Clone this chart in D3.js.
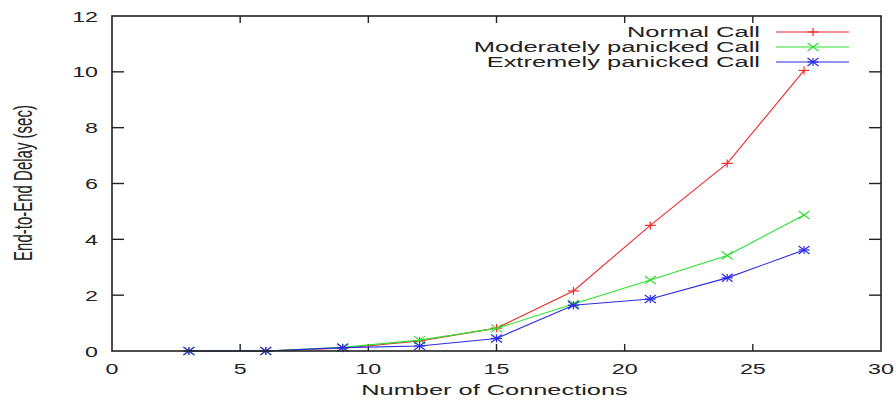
<!DOCTYPE html>
<html><head><meta charset="utf-8">
<script src="https://cdn.jsdelivr.net/npm/d3@7"></script>
<style>html,body{margin:0;padding:0;background:#fff;}svg{display:block;}text{font-family:"Liberation Sans",Arial,Helvetica,sans-serif;fill:#222;}</style>
</head><body>
<svg id="c" width="896" height="401"></svg>
<script>
const connections = [3, 6, 9, 12, 15, 18, 21, 24, 27];
const normalCall = [0, 0, 0.1, 0.36, 0.82, 2.15, 4.5, 6.72, 10.05];
const moderateCall = [0, 0, 0.13, 0.39, 0.81, 1.68, 2.54, 3.42, 4.87];
const extremeCall = [0, 0, 0.12, 0.18, 0.45, 1.64, 1.86, 2.62, 3.62];
const xTicks = [0, 5, 10, 15, 20, 25, 30];
const yTicks = [0, 2, 4, 6, 8, 10, 12];
const seriesNames = ["Normal Call", "Moderately panicked Call", "Extremely panicked Call"];
const seriesColors = ["#ee2a2a", "#2ee02e", "#2a2ae6"];
const seriesMarkers = ["plus", "cross", "star"];
const seriesValues = [normalCall, moderateCall, extremeCall];

const SX = 1.7;
const svg = d3.select("#c");
const x = d3.scaleLinear().domain([0, 30]).range([112, 881]);
const y = d3.scaleLinear().domain([0, 12]).range([351, 16]);

function stext(g, tx, ty, str, anchor, size, sx) {
  return g.append("text").attr("transform", `translate(${tx},${ty}) scale(${sx||SX},1)`)
    .attr("text-anchor", anchor).attr("font-size", size).text(str);
}

// ticks (all four sides, inward)
const tk = svg.append("g").attr("stroke", "#222").attr("stroke-width", 1.4);
xTicks.forEach(t => {
  if (t > 0 && t < 30) {
    tk.append("line").attr("x1", x(t)).attr("x2", x(t)).attr("y1", y(0)).attr("y2", y(0) - 7);
    tk.append("line").attr("x1", x(t)).attr("x2", x(t)).attr("y1", y(12)).attr("y2", y(12) + 7);
  }
});
yTicks.forEach(t => {
  if (t > 0 && t < 12) {
    tk.append("line").attr("x1", x(0)).attr("x2", x(0) + 12).attr("y1", y(t)).attr("y2", y(t));
    tk.append("line").attr("x1", x(30)).attr("x2", x(30) - 12).attr("y1", y(t)).attr("y2", y(t));
  }
});

// series lines and markers
const line = d3.line().x(d => x(d[0])).y(d => y(d[1]));
function marker(g, type, cx, cy, color) {
  const hx = 5.5, hy = 4;
  const p = g.append("g").attr("stroke", color).attr("stroke-width", 1.2);
  if (type === "plus" || type === "star") {
    p.append("line").attr("x1", cx - hx).attr("x2", cx + hx).attr("y1", cy).attr("y2", cy);
    p.append("line").attr("x1", cx).attr("x2", cx).attr("y1", cy - hy).attr("y2", cy + hy);
  }
  if (type === "cross" || type === "star") {
    p.append("line").attr("x1", cx - hx).attr("x2", cx + hx).attr("y1", cy - hy).attr("y2", cy + hy);
    p.append("line").attr("x1", cx - hx).attr("x2", cx + hx).attr("y1", cy + hy).attr("y2", cy - hy);
  }
}
seriesValues.forEach((vals, i) => {
  const pts = connections.map((c, j) => [c, vals[j]]);
  const g = svg.append("g");
  g.append("path").attr("d", line(pts)).attr("fill", "none").attr("stroke", seriesColors[i]).attr("stroke-width", 1.1);
  pts.forEach(p => marker(g, seriesMarkers[i], x(p[0]), y(p[1]), seriesColors[i]));
});

// frame
svg.append("rect").attr("x", x(0)).attr("y", y(12)).attr("width", x(30) - x(0)).attr("height", y(0) - y(12))
  .attr("fill", "none").attr("stroke", "#222").attr("stroke-width", 1.6);

// tick labels
const lab = svg.append("g");
xTicks.forEach(t => stext(lab, x(t), 374, String(t), "middle", 15, 1.55));
yTicks.forEach(t => stext(lab, 98, y(t) + 5.5, String(t), "end", 15, 1.55));

// axis titles
stext(svg, (x(0) + x(30)) / 2 - 2, 395, "Number of Connections", "middle", 14.5, 1.75);
svg.append("text").attr("transform", `translate(32,183) scale(${SX},1) rotate(-90)`)
  .attr("text-anchor", "middle").attr("font-size", 15).text("End-to-End Delay (sec)");

// legend
const lg = svg.append("g");
seriesNames.forEach((n, i) => {
  const ly = 32 + i * 15;
  stext(lg, 760, ly + 5, n, "end", 15);
  lg.append("line").attr("x1", 776).attr("x2", 849).attr("y1", ly).attr("y2", ly)
    .attr("stroke", seriesColors[i]).attr("stroke-width", 1.1);
  marker(lg, seriesMarkers[i], 813, ly, seriesColors[i]);
});
</script>
</body></html>
